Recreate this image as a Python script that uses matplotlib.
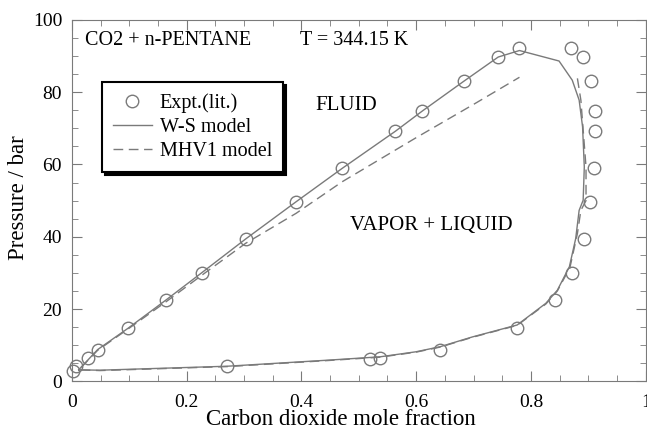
import matplotlib.pyplot as plt
from matplotlib.ticker import MultipleLocator

# experimental points (CO2 mole fraction, pressure in bar)
exp_x = [0.002, 0.008, 0.029, 0.045, 0.098, 0.164, 0.226, 0.303, 0.391, 0.471,
         0.564, 0.611, 0.683, 0.743, 0.780,
         0.870, 0.891, 0.904, 0.912, 0.912, 0.910, 0.903, 0.893, 0.872, 0.842,
         0.776, 0.642, 0.537, 0.520, 0.271]
exp_p = [2.8, 4.3, 6.5, 8.8, 14.7, 22.5, 30.0, 39.4, 49.7, 58.9,
         69.2, 74.8, 83.0, 89.7, 92.2,
         92.3, 89.6, 83.0, 74.8, 69.2, 58.9, 49.7, 39.4, 30.1, 22.5,
         14.7, 8.8, 6.6, 6.3, 4.2]

# W-S model (closed envelope)
ws_x = [0.012, 0.045, 0.098, 0.164, 0.226, 0.303, 0.391, 0.471, 0.564, 0.611,
        0.683, 0.743, 0.780, 0.849, 0.872, 0.884, 0.890, 0.893, 0.891, 0.884,
        0.878, 0.867, 0.846, 0.826, 0.776, 0.698, 0.642, 0.600, 0.537, 0.449,
        0.271, 0.049, 0.012]
ws_p = [3.2, 8.8, 14.7, 22.5, 30.0, 39.4, 49.7, 58.9, 69.2, 74.8,
        83.0, 89.7, 91.5, 88.6, 83.3, 77.8, 70.4, 59.3, 50.1, 47.3,
        39.5, 31.7, 25.2, 21.6, 15.6, 12.3, 9.6, 8.2, 6.8, 5.9,
        4.2, 3.1, 3.2]

# MHV1 model (open at the top)
mhv_x = [0.881, 0.887, 0.896, 0.896, 0.887, 0.881, 0.868, 0.846, 0.826, 0.776,
         0.698, 0.642, 0.600, 0.537, 0.449, 0.271, 0.049, 0.012,
         0.045, 0.098, 0.164, 0.226, 0.303, 0.391, 0.471, 0.600, 0.700, 0.780]
mhv_p = [83.8, 77.8, 59.3, 50.0, 47.3, 40.9, 31.5, 25.0, 21.4, 15.5,
         12.2, 9.5, 8.1, 6.7, 5.8, 4.1, 3.0, 3.2,
         8.6, 14.5, 22.0, 29.3, 38.2, 46.5, 55.2, 67.4, 76.6, 84.1]

plt.rcParams['font.family'] = 'Liberation Serif'
gray = '#7a7a7a'

fig = plt.figure(figsize=(6.47, 4.30), dpi=100)
ax = fig.add_axes([0.111, 0.113, 0.887, 0.841])

ax.plot(ws_x, ws_p, color=gray, lw=1.0, label='W-S model')
ax.plot(mhv_x, mhv_p, color=gray, lw=1.0, dashes=(7, 4), label='MHV1 model')
ax.plot(exp_x, exp_p, 'o', ms=9, mfc='none', mec=gray, mew=1.0,
        label='Expt.(lit.)', clip_on=False)

ax.set_xlim(0, 1)
ax.set_ylim(0, 100)
ax.xaxis.set_major_locator(MultipleLocator(0.2))
ax.xaxis.set_minor_locator(MultipleLocator(0.05))
ax.yaxis.set_major_locator(MultipleLocator(20))
ax.yaxis.set_minor_locator(MultipleLocator(5))
ax.xaxis.set_major_formatter(plt.FuncFormatter(lambda v, p: '%g' % round(v, 2)))
ax.tick_params(which='both', direction='in', top=True, right=True,
               color=gray, labelsize=14)
ax.tick_params(axis='x', pad=9)
ax.tick_params(axis='y', pad=7)
ax.tick_params(which='major', length=7)
ax.tick_params(which='minor', length=4)
for s in ax.spines.values():
    s.set_color(gray)

ax.set_xlabel('Carbon dioxide mole fraction', fontsize=16.5)
ax.set_ylabel('Pressure / bar', fontsize=16.5)
ax.xaxis.set_label_coords(0.469, -0.077)
ax.yaxis.set_label_coords(-0.074, 0.508)

ax.text(0.023, 94.4, 'CO2 + n-PENTANE', fontsize=14.5, va='center')
ax.text(0.397, 94.4, 'T = 344.15 K', fontsize=14.5, va='center')
ax.text(0.479, 76.3, 'FLUID', fontsize=15, ha='center', va='center')
ax.text(0.627, 43.1, 'VAPOR + LIQUID', fontsize=15, ha='center', va='center')

h, l = ax.get_legend_handles_labels()
leg = ax.legend([h[2], h[0], h[1]], [l[2], l[0], l[1]],
                loc='upper left', bbox_to_anchor=(0.053, 0.828),
                borderaxespad=0, fancybox=False, fontsize=14.5,
                handlelength=1.9, handletextpad=0.4, borderpad=0.55,
                labelspacing=0.25, shadow={'color': 'black', 'alpha': 1})
leg.get_frame().set_edgecolor('black')
leg.get_frame().set_linewidth(1.5)

fig.savefig('out.png', dpi=100)
